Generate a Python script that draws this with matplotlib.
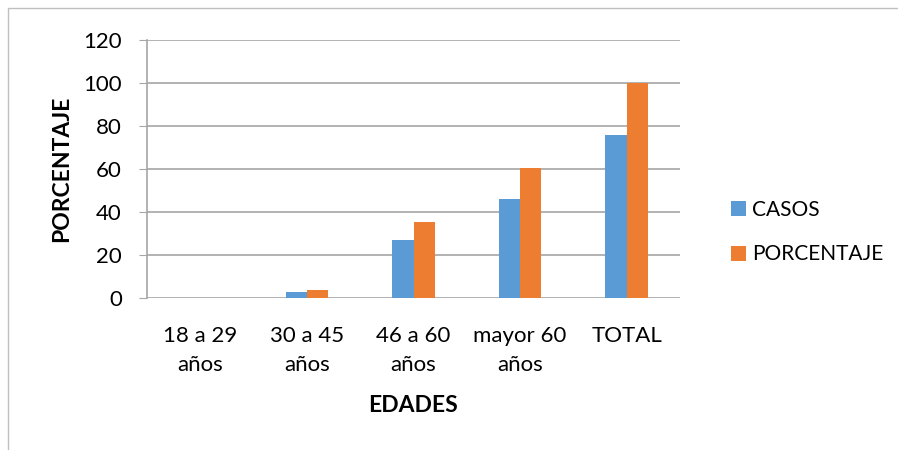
import numpy as np
import matplotlib
matplotlib.use("Agg")
from matplotlib import pyplot as plt
from matplotlib.patches import Rectangle

categories = ["18 a 29\naños", "30 a 45\naños", "46 a 60\naños", "mayor 60\naños", "TOTAL"]
casos = [0, 3, 27, 46, 76]
porcentaje = [0, 3.95, 35.5, 60.5, 100]
series_names = ["CASOS", "PORCENTAJE"]
yticks = [0, 20, 40, 60, 80, 100, 120]

blue = "#5B9BD5"
orange = "#ED7D31"
grid = "#A6A6A6"

plt.rcParams["font.family"] = ["Lato", "DejaVu Sans"]

fig = plt.figure(figsize=(8.98, 4.5), dpi=100)
ax = fig.add_axes([147 / 898, 1 - 298 / 450, 533 / 898, 258 / 450])

x = np.arange(len(categories))
w = 0.2
b1 = ax.bar(x - w / 2, casos, w, color=blue, label=series_names[0], zorder=3)
b2 = ax.bar(x + w / 2, porcentaje, w, color=orange, label=series_names[1], zorder=3)

ax.set_xlim(-0.5, len(categories) - 0.5)
ax.set_ylim(0, 120)
ax.set_yticks(yticks)
ax.set_xticks(x)
ax.set_xticklabels(categories, fontsize=16, linespacing=1.6)
ax.tick_params(axis="y", labelsize=16, length=6, color=grid, pad=12)
ax.tick_params(axis="x", length=0, pad=20)
ax.yaxis.grid(True, color=grid, linewidth=1.2, zorder=0)
for s in ["top", "right", "bottom"]:
    ax.spines[s].set_visible(False)
ax.spines["left"].set_color(grid)
ax.spines["left"].set_linewidth(1.2)

ax.set_ylabel("PORCENTAJE", fontsize=16.5, fontweight="bold", labelpad=8)
ax.set_xlabel("EDADES", fontsize=16.5, fontweight="bold", labelpad=14)

fig.legend(handles=[b1, b2], loc="center left", bbox_to_anchor=(712 / 898, 1 - 232 / 450),
           frameon=False, fontsize=15, handlelength=0.72, handleheight=0.72,
           handletextpad=0.3, labelspacing=1.2)

# outer chart frame (left and top edges visible)
fig.add_artist(Rectangle((8 / 898, -0.1), 1.2, 1 - 8 / 450 + 0.1, transform=fig.transFigure,
                         fill=False, edgecolor="#BFBFBF", linewidth=1))

plt.savefig("out.png", dpi=100)
plt.close()
